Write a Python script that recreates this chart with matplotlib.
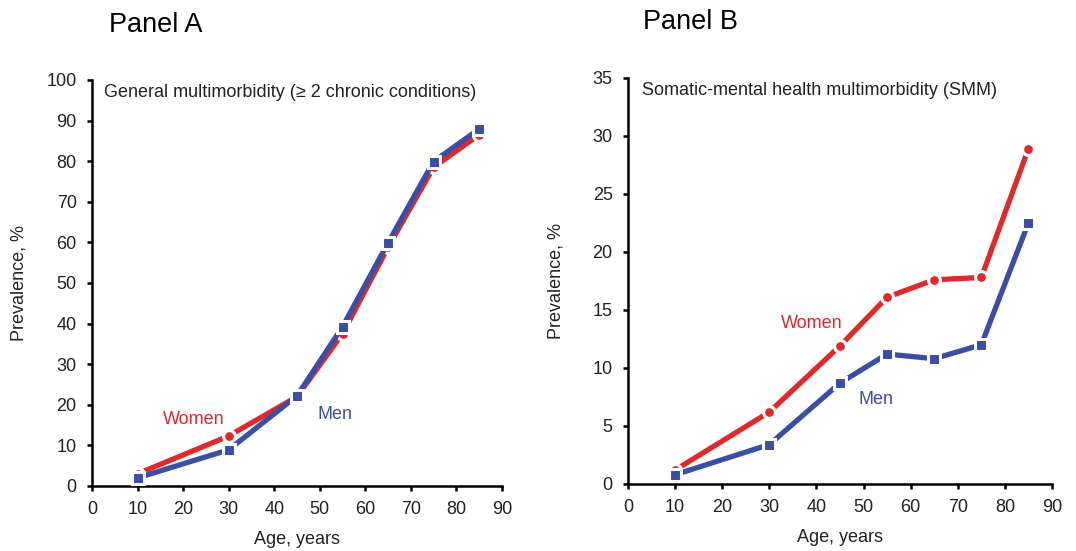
import matplotlib.pyplot as plt

plt.rcParams['font.family'] = ['Liberation Sans', 'DejaVu Sans']

ages = [10, 30, 45, 55, 65, 75, 85]

# Panel A: general multimorbidity
general_women = [3.0, 12.3, 22.0, 37.5, 58.8, 78.5, 86.5]
general_men = [2.0, 8.9, 22.2, 39.2, 59.9, 79.9, 87.9]

# Panel B: somatic-mental health multimorbidity
smm_women = [1.2, 6.2, 11.9, 16.1, 17.6, 17.8, 28.9]
smm_men = [0.8, 3.4, 8.7, 11.2, 10.8, 12.0, 22.5]

RED = '#e0292b'
BLUE = '#3b4ea6'
TXT = '#222222'

fig = plt.figure(figsize=(10.76, 5.51), dpi=100)
axA = fig.add_axes([0.0855, 0.118, 0.381, 0.737])
axB = fig.add_axes([0.5836, 0.1216, 0.3941, 0.737])


def style(ax, ymax, ystep, ylab_x, xlab_y):
    ax.set_xlim(0, 90)
    ax.set_ylim(0, ymax)
    ax.set_xticks(range(0, 91, 10))
    ax.set_yticks(range(0, ymax + 1, ystep))
    for s in ['top', 'right']:
        ax.spines[s].set_visible(False)
    for s in ['left', 'bottom']:
        ax.spines[s].set_linewidth(1.8)
        ax.spines[s].set_color('black')
    ax.tick_params(direction='out', length=3.5, width=1.8, labelsize=13,
                   labelcolor=TXT, pad=7.5)
    ax.set_xlabel('Age, years', fontsize=13, color=TXT)
    ax.set_ylabel('Prevalence, %', fontsize=13, color=TXT)
    ax.yaxis.set_label_coords(ylab_x, 0.5)
    ax.xaxis.set_label_coords(0.5, xlab_y)


def series(ax, y, color, marker, ms):
    ax.plot(ages, y, color=color, lw=3.8, marker=marker, ms=ms,
            mfc=color, mec='white', mew=2.2, clip_on=False, zorder=3)


# Panel A
style(axA, 100, 10, -0.157, -0.11)
series(axA, general_women, RED, 'o', 8.5)
series(axA, general_men, BLUE, 's', 8.5)
axA.text(2.6, 96.8, 'General multimorbidity (\u2265 2 chronic conditions)',
         fontsize=13, color=TXT, va='center', ha='left')
axA.text(22.4, 16.3, 'Women', color=RED, fontsize=13, ha='center', va='center')
axA.text(53.3, 17.7, 'Men', color=BLUE, fontsize=13, ha='center', va='center')

# Panel B
style(axB, 35, 5, -0.15, -0.11)
series(axB, smm_women, RED, 'o', 8.5)
series(axB, smm_men, BLUE, 's', 8.5)
axB.text(3.0, 33.9, 'Somatic-mental health multimorbidity (SMM)',
         fontsize=13, color=TXT, va='center', ha='left')
axB.text(38.9, 13.8, 'Women', color=RED, fontsize=13, ha='center', va='center')
axB.text(52.6, 7.3, 'Men', color=BLUE, fontsize=13, ha='center', va='center')

fig.text(156 / 1076, 1 - 25 / 551, 'Panel A', fontsize=19.5, ha='center', va='center')
fig.text(690 / 1076, 1 - 22 / 551, 'Panel B', fontsize=19.5, ha='center', va='center')

fig.savefig('out.png', dpi=100, facecolor='white')
